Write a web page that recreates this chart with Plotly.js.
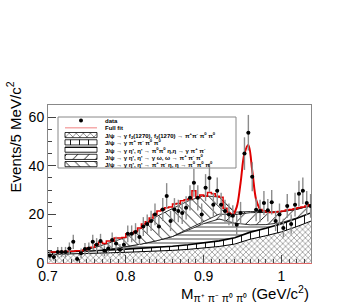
<!DOCTYPE html>
<html><head><meta charset="utf-8">
<script src="https://cdn.plot.ly/plotly-3.0.1.min.js"></script>
<style>html,body{margin:0;padding:0;background:#fff}#chart{width:354px;height:305px}</style>
</head><body><div id="chart"></div>
<script>
// ---- data ----
const binCenters = [0.7025,0.7075,0.7125,0.7175,0.7225,0.7275,0.7325,0.7375,0.7425,0.7475,
  0.7525,0.7575,0.7625,0.7675,0.7725,0.7775,0.7825,0.7875,0.7925,0.7975,
  0.8025,0.8075,0.8125,0.8175,0.8225,0.8275,0.8325,0.8375,0.8425,0.8475,
  0.8525,0.8575,0.8625,0.8675,0.8725,0.8775,0.8825,0.8875,0.8925,0.8975,
  0.9025,0.9075,0.9125,0.9175,0.9225,0.9275,0.9325,0.9375,0.9425,0.9475,
  0.9525,0.9575,0.9625,0.9675,0.9725,0.9775,0.9825,0.9875,0.9925,0.9975,
  1.0025,1.0075,1.0125,1.0175,1.0225,1.0275,1.0325,1.0375];
const dataCounts = [3,2.5,4.5,4.5,4.5,6,8.7,1.6,4,5.8,
  6,8.7,7.5,9,5,6,9.5,8,5.5,7.5,
  12,12,12.8,10.7,15,16,17.3,20,15,22,
  27.6,17.3,22,21.4,20.6,22.7,26.8,33,26.8,20,
  31,35,24,29.7,24,21.4,20,19.4,15.7,20.6,
  45,53.6,35.5,21.9,21.4,24.7,21.7,25,17.3,20,
  14.4,23.5,16,24,28.5,29.7,24.7,23.5];
const fullFit = [4.5,4.5,4.5,4.7,4.7,4.8,4.8,5.0,5.0,5.5,
  6.2,6.5,7.5,8.5,8.0,9.0,9.0,10.3,10.3,10.5,
  12,12,13,14.4,16,17,18.5,20,21.4,22,
  22.7,23,24.3,24.5,25.6,26,26.4,29.7,27,28,
  27.5,29,28.5,27.5,27,22.5,21,20,23,33,
  45,48.5,38,26,22,21.5,21,20.8,21,21.2,
  21.4,21.8,22,22.3,22.7,23,23.5,24];
const compX = [0.70,0.72,0.74,0.76,0.78,0.80,0.82,0.84,0.86,0.88,0.90,0.92,0.94,0.96,0.98,1.00,1.02,1.04];
const compF2 =            [3.5,3.6,3.8,4.0,4.2,4.4,4.6,4.9,5.2,5.6,6.1,6.8,7.8,9.8,11.2,12.8,15,17.5];
const compPhaseSpace =    [0.8,0.9,1.0,1.1,1.2,1.3,1.4,1.5,1.7,1.9,2.1,2.3,2.6,2.9,3.1,3.3,3.4,3.5];
const compEtaPi0Pi0Eta =  [0,0,0,0,0.3,1.0,1.8,2.8,4.0,6.0,8.0,9.0,6.0,3.0,1.5,0.5,0.2,0];
const compEtaGammaOmega = [0,0,0,0,0,0,0,0,0,0.5,1.0,2.0,3.5,5.0,5.0,4.5,3.5,2.8];
const compEtaPipiEta =    [0,0,0,1.2,2.8,3.8,6.5,10,11.5,11.5,10.5,7,1,0.5,0.2,0,0,0];
const legendLabels = [
  '<b>data</b>',
  '<b>Full fit</b>',
  '<b>J/ψ → γ f<sub>2</sub>(1270), f<sub>2</sub>(1270) → π<sup>+</sup>π<sup>-</sup> π<sup>0</sup> π<sup>0</sup></b>',
  '<b>J/ψ → γ π<sup>+</sup> π<sup>-</sup> π<sup>0</sup> π<sup>0</sup></b>',
  "<b>J/ψ → γ η', η' → π<sup>0</sup>π<sup>0</sup> η,η → γ π<sup>+</sup> π<sup>-</sup></b>",
  "<b>J/ψ → γ η', η' → γ ω, ω → π<sup>+</sup> π<sup>-</sup> π<sup>0</sup></b>",
  "<b>J/ψ → γ η', η' → π<sup>+</sup> π<sup>-</sup> η, η → π<sup>0</sup> π<sup>0</sup> π<sup>0</sup></b>"
];
const xTickVals = [0.7,0.8,0.9,1.0];
const xTickText = ['0.7','0.8','0.9','1'];
const yTickVals = [0,20,40,60];
const yTickText = ['0','20','40','60'];

// ---- styling ----
const FONT = 'Liberation Sans, Arial, Helvetica, sans-serif';
const patterns = [
  {shape:'x', size:4, solidity:0.16},
  {shape:'|', size:9, solidity:0.1},
  {shape:'-', size:4, solidity:0.18},
  {shape:'/', size:8, solidity:0.11},
  {shape:'\\', size:7, solidity:0.12}
];
const comps = [compF2, compPhaseSpace, compEtaPi0Pi0Eta, compEtaGammaOmega, compEtaPipiEta];
const compLineW = [1, 1.6, 0.8, 0.8, 0.8];

const traces = [];
comps.forEach((c, k) => {
  traces.push({
    x: compX, y: c, type:'scatter', mode:'lines', stackgroup:'fit',
    line:{color:'#000', width:compLineW[k]},
    fillcolor:'#fff',
    fillpattern:{shape:patterns[k].shape, size:patterns[k].size, solidity:patterns[k].solidity,
                 fgcolor:'#000', bgcolor:'#fff', fillmode:'replace'},
    hoverinfo:'skip', showlegend:false
  });
});

// red full fit: histogram-like steps, smooth peak
const iPeakA = 46, iPeakB = 54;
traces.push({x: binCenters.slice(0, iPeakA+1), y: fullFit.slice(0, iPeakA+1), type:'scatter', mode:'lines',
  line:{color:'#e00000', width:1.5, shape:'hvh'}, showlegend:false, hoverinfo:'skip'});
traces.push({x: binCenters.slice(iPeakA, iPeakB+1), y: fullFit.slice(iPeakA, iPeakB+1), type:'scatter', mode:'lines',
  line:{color:'#e00000', width:2, shape:'spline', smoothing:1}, showlegend:false, hoverinfo:'skip'});
traces.push({x: binCenters.slice(iPeakB), y: fullFit.slice(iPeakB), type:'scatter', mode:'lines',
  line:{color:'#e00000', width:1.5, shape:'hvh'}, showlegend:false, hoverinfo:'skip'});

// data points
traces.push({x: binCenters, y: dataCounts, type:'scatter', mode:'markers',
  marker:{color:'#000', size:4, symbol:'circle'},
  error_y:{type:'sqrt', color:'#8c8c8c', thickness:1.4, width:0},
  error_x:{type:'constant', value:0.0022, color:'#000', thickness:1.2, width:0},
  showlegend:false, hoverinfo:'skip'});

// ---- hand-made legend in pixel-like overlay axes ----
const L = {x0:58, x1:236, y0:117, y1:168, sx0:65, sx1:97, tx:103, row0:120.6, dy:7.25, h:2.6};
const rowY = k => L.row0 + k*L.dy;
// data symbol
traces.push({x:[(L.sx0+L.sx1)/2], y:[rowY(0)], xaxis:'x2', yaxis:'y2', type:'scatter', mode:'markers',
  marker:{color:'#000', size:4}, showlegend:false, hoverinfo:'skip'});
// full fit symbol
traces.push({x:[L.sx0, L.sx1], y:[rowY(1), rowY(1)], xaxis:'x2', yaxis:'y2', type:'scatter', mode:'lines',
  line:{color:'#f08080', width:1}, showlegend:false, hoverinfo:'skip'});
patterns.forEach((p, k) => {
  const yc = rowY(k+2);
  traces.push({x:[L.sx0,L.sx1,L.sx1,L.sx0,L.sx0], y:[yc-L.h,yc-L.h,yc+L.h,yc+L.h,yc-L.h],
    xaxis:'x2', yaxis:'y2', type:'scatter', mode:'lines', fill:'toself', fillcolor:'#fff',
    fillpattern:{shape:p.shape, size:Math.max(p.size,5), solidity:p.solidity, fgcolor:'#000', bgcolor:'#fff', fillmode:'replace'},
    line:{color:'#000', width:0.8}, showlegend:false, hoverinfo:'skip'});
});

const annotations = legendLabels.map((t, k) => ({
  xref:'x2', yref:'y2', x:L.tx, y:rowY(k), text:t, showarrow:false,
  xanchor:'left', yanchor:'middle', font:{family:FONT, size:6, color:'#000'}
}));
annotations.push({xref:'paper', yref:'paper', x:-0.13, y:0.80, text:'Events/5 MeV/c<sup>2</sup>',
  textangle:-90, showarrow:false, xanchor:'center', yanchor:'middle', font:{family:FONT, size:15, color:'#000'}});
annotations.push({xref:'paper', yref:'paper', x:1.0, y:-0.19,
  text:'M<sub>π⁺ π⁻ π⁰ π⁰</sub> (GeV/c<sup>2</sup>)', showarrow:false,
  xanchor:'right', yanchor:'middle', font:{family:FONT, size:15, color:'#000'}});

const layout = {
  width:354, height:305,
  margin:{l:48, r:43, t:105, b:42},
  paper_bgcolor:'#fff', plot_bgcolor:'#fff',
  showlegend:false,
  font:{family:FONT, color:'#000'},
  xaxis:{range:[0.7,1.038], tickvals:xTickVals, ticktext:xTickText, ticks:'inside', ticklen:8,
    tickcolor:'#444', tickfont:{family:FONT, size:14, color:'#000'},
    minor:{dtick:0.01, ticks:'inside', ticklen:4, tickcolor:'#444', showgrid:false},
    showgrid:false, zeroline:false, showline:true, linecolor:'#e06a6a', linewidth:1, mirror:false},
  yaxis:{range:[0,65], tickvals:yTickVals, ticktext:yTickText, ticks:'inside', ticklen:8,
    tickcolor:'#444', tickfont:{family:FONT, size:14, color:'#000'},
    minor:{dtick:5, ticks:'inside', ticklen:4, tickcolor:'#444', showgrid:false},
    showgrid:false, zeroline:false, showline:true, linecolor:'#888', linewidth:1, mirror:false},
  xaxis2:{overlaying:'x', anchor:'y2', side:'top', range:[48,311], showline:true, linecolor:'#888',
    showticklabels:false, ticks:'', showgrid:false, zeroline:false},
  yaxis2:{overlaying:'y', anchor:'x2', side:'right', range:[263,105], showline:true, linecolor:'#888',
    showticklabels:false, ticks:'', showgrid:false, zeroline:false},
  shapes:[{type:'rect', xref:'x2', yref:'y2', x0:L.x0, x1:L.x1, y0:L.y0, y1:L.y1,
    line:{color:'#888', width:1}, fillcolor:'#fff', layer:'below'}],
  annotations: annotations
};

Plotly.newPlot('chart', traces, layout, {displayModeBar:false, staticPlot:true});
</script></body></html>
